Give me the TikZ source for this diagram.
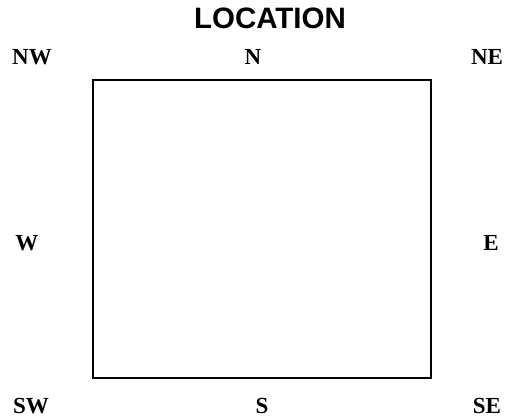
\documentclass[tikz,border=0pt]{standalone}
\usepackage{fontspec}
\setmainfont{Liberation Serif}
\newfontfamily\titlefont{Liberation Sans}
\begin{document}
\begin{tikzpicture}[x=1pt,y=-1pt,
  dirlabel/.style={font=\fontsize{23}{23}\selectfont\bfseries, inner sep=0pt},
  titlelabel/.style={font=\titlefont\fontsize{29.5}{29.5}\selectfont\bfseries, inner sep=0pt}]
\useasboundingbox (0,0) rectangle (508,419);
\draw[line width=1.6pt] (93,80) rectangle (431,378);
\node[titlelabel] (title) at (270,18) {LOCATION};
\node[dirlabel] (nw) at (32,57) {NW};
\node[dirlabel] (n) at (253,57) {N};
\node[dirlabel] (ne) at (487,57) {NE};
\node[dirlabel] (w) at (27,243) {W};
\node[dirlabel] (e) at (491,243) {E};
\node[dirlabel] (sw) at (31,406) {SW};
\node[dirlabel] (s) at (262,406) {S};
\node[dirlabel] (se) at (487,406) {SE};
\end{tikzpicture}
\end{document}
